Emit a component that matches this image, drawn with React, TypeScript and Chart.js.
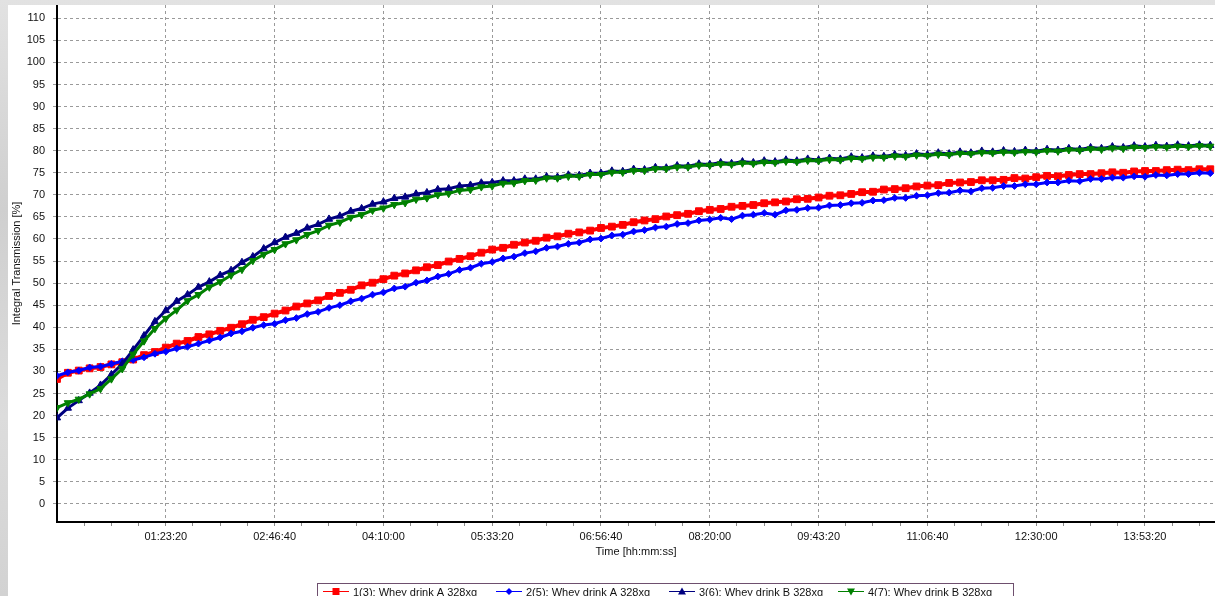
import React, { useEffect, useRef } from 'react';
import { Chart, registerables } from 'chart.js';

Chart.register(...registerables);

// elapsed time in seconds
const timeSeconds = [
  0, 500, 1000, 1500, 2000, 2500, 3000, 3500, 4000, 4500,
  5000, 5500, 6000, 6500, 7000, 7500, 8000, 8500, 9000, 9500,
  10000, 10500, 11000, 11500, 12000, 12500, 13000, 13500, 14000, 14500,
  15000, 15500, 16000, 16500, 17000, 17500, 18000, 18500, 19000, 19500,
  20000, 20500, 21000, 21500, 22000, 22500, 23000, 23500, 24000, 24500,
  25000, 25500, 26000, 26500, 27000, 27500, 28000, 28500, 29000, 29500,
  30000, 30500, 31000, 31500, 32000, 32500, 33000, 33500, 34000, 34500,
  35000, 35500, 36000, 36500, 37000, 37500, 38000, 38500, 39000, 39500,
  40000, 40500, 41000, 41500, 42000, 42500, 43000, 43500, 44000, 44500,
  45000, 45500, 46000, 46500, 47000, 47500, 48000, 48500, 49000, 49500,
  50000, 50500, 51000, 51500, 52000, 52500, 53000,
];

// 1(3): Whey drink A 328xg
const series1 = [
  28.3, 29.7, 30.2, 30.7, 31.0, 31.6, 32.1, 32.7, 33.7, 34.4,
  35.4, 36.3, 36.9, 37.8, 38.4, 39.2, 39.9, 40.7, 41.7, 42.3,
  43.1, 43.8, 44.7, 45.4, 46.1, 47.1, 47.8, 48.5, 49.5, 50.1,
  50.9, 51.7, 52.2, 52.9, 53.6, 54.1, 54.9, 55.5, 56.1, 56.9,
  57.6, 58.0, 58.7, 59.2, 59.6, 60.3, 60.6, 61.2, 61.5, 61.9,
  62.5, 62.8, 63.2, 63.8, 64.2, 64.5, 65.1, 65.4, 65.7, 66.3,
  66.6, 66.8, 67.3, 67.5, 67.7, 68.1, 68.3, 68.5, 69.0, 69.1,
  69.4, 69.8, 69.9, 70.2, 70.6, 70.7, 71.2, 71.3, 71.5, 71.9,
  72.1, 72.2, 72.7, 72.8, 72.9, 73.3, 73.3, 73.4, 73.8, 73.7,
  74.0, 74.3, 74.2, 74.5, 74.7, 74.7, 74.9, 75.1, 75.0, 75.3,
  75.4, 75.4, 75.6, 75.7, 75.6, 75.8, 75.8,
];

// 2(5): Whey drink A 328xg
const series2 = [
  29.0, 29.8, 30.2, 30.9, 31.1, 31.7, 32.3, 32.6, 33.2, 34.0,
  34.5, 35.2, 35.6, 36.3, 37.0, 37.7, 38.6, 39.1, 39.9, 40.5,
  40.8, 41.6, 42.1, 43.0, 43.5, 44.4, 45.0, 45.9, 46.5, 47.4,
  47.9, 48.8, 49.2, 50.1, 50.6, 51.5, 52.1, 53.0, 53.5, 54.4,
  54.8, 55.6, 56.0, 56.8, 57.2, 58.0, 58.3, 58.9, 59.2, 59.9,
  60.1, 60.8, 61.0, 61.7, 62.0, 62.6, 62.8, 63.4, 63.6, 64.2,
  64.4, 64.8, 64.5, 65.3, 65.5, 65.9, 65.5, 66.5, 66.6, 67.0,
  67.1, 67.6, 67.7, 68.1, 68.2, 68.7, 68.8, 69.3, 69.3, 69.8,
  69.9, 70.4, 70.5, 71.0, 70.8, 71.5, 71.6, 72.0, 72.0, 72.4,
  72.4, 72.8, 72.8, 73.2, 73.1, 73.6, 73.6, 73.9, 73.9, 74.2,
  74.1, 74.5, 74.4, 74.7, 74.7, 75.0, 74.9,
];

// 3(6): Whey drink B 328xg
const series3 = [
  19.5, 21.7, 23.4, 25.1, 26.9, 29.3, 31.7, 34.9, 38.1, 41.3,
  43.8, 45.9, 47.4, 49.1, 50.3, 51.8, 52.9, 54.7, 56.0, 57.8,
  59.2, 60.4, 61.3, 62.5, 63.3, 64.5, 65.2, 66.3, 66.9, 67.9,
  68.4, 69.2, 69.5, 70.2, 70.5, 71.2, 71.4, 72.0, 72.2, 72.7,
  72.8, 73.2, 73.2, 73.6, 73.6, 74.1, 74.0, 74.5, 74.4, 74.9,
  74.9, 75.4, 75.3, 75.8, 75.7, 76.2, 76.1, 76.6, 76.5, 77.0,
  76.9, 77.3, 77.1, 77.5, 77.3, 77.7, 77.5, 77.9, 77.7, 78.1,
  77.9, 78.3, 78.1, 78.6, 78.4, 78.8, 78.7, 79.1, 78.9, 79.3,
  79.1, 79.5, 79.3, 79.7, 79.5, 79.9, 79.7, 80.0, 79.8, 80.1,
  79.9, 80.3, 80.1, 80.5, 80.3, 80.7, 80.5, 80.9, 80.7, 81.1,
  80.9, 81.2, 81.0, 81.3, 81.1, 81.3, 81.2,
];

// 4(7): Whey drink B 328xg
const series4 = [
  21.8, 22.9, 23.7, 24.9, 26.1, 28.3, 30.6, 33.9, 36.9, 39.7,
  42.0, 43.9, 46.0, 47.4, 49.1, 50.3, 51.8, 53.1, 55.1, 56.5,
  57.6, 58.9, 59.8, 61.0, 61.9, 63.1, 63.8, 64.9, 65.5, 66.5,
  67.0, 67.8, 68.2, 69.0, 69.3, 70.0, 70.3, 71.0, 71.2, 71.8,
  72.0, 72.6, 72.7, 73.2, 73.3, 73.8, 73.8, 74.2, 74.2, 74.6,
  74.6, 75.1, 75.1, 75.5, 75.5, 75.9, 75.9, 76.3, 76.3, 76.7,
  76.7, 77.0, 76.9, 77.2, 77.1, 77.4, 77.3, 77.6, 77.5, 77.8,
  77.7, 78.0, 77.9, 78.3, 78.2, 78.5, 78.5, 78.8, 78.7, 79.0,
  78.9, 79.2, 79.1, 79.4, 79.3, 79.6, 79.5, 79.7, 79.6, 79.8,
  79.7, 80.0, 79.9, 80.2, 80.1, 80.4, 80.3, 80.6, 80.5, 80.8,
  80.7, 80.9, 80.8, 81.0, 80.9, 81.1, 81.0,
];

const seriesNames = [
  '1(3): Whey drink A 328xg',
  '2(5): Whey drink A 328xg',
  '3(6): Whey drink B 328xg',
  '4(7): Whey drink B 328xg',
];

const yTickValues = [0, 5, 10, 15, 20, 25, 30, 35, 40, 45, 50, 55, 60, 65, 70, 75, 80, 85, 90, 95, 100, 105, 110];

const xMajorTicks = [5000, 10000, 15000, 20000, 25000, 30000, 35000, 40000, 45000, 50000];
const xTickLabels = ['01:23:20', '02:46:40', '04:10:00', '05:33:20', '06:56:40', '08:20:00', '09:43:20', '11:06:40', '12:30:00', '13:53:20'];

const FONT = '"Liberation Sans", Arial, sans-serif';
const GRID = '#9a9a9a';

const colors = ['#ff0000', '#0000ff', '#000080', '#008000'];
const markerKinds = ['square', 'diamond', 'up', 'down'];

function drawMarker(ctx: CanvasRenderingContext2D, kind: string, x: number, y: number, color: string) {
  ctx.fillStyle = color;
  ctx.beginPath();
  if (kind === 'square') {
    ctx.rect(x - 3.5, y - 3.5, 7, 7);
  } else if (kind === 'diamond') {
    ctx.moveTo(x, y - 3.5);
    ctx.lineTo(x + 3.5, y);
    ctx.lineTo(x, y + 3.5);
    ctx.lineTo(x - 3.5, y);
    ctx.closePath();
  } else if (kind === 'up') {
    ctx.moveTo(x, y - 4);
    ctx.lineTo(x + 4, y + 3);
    ctx.lineTo(x - 4, y + 3);
    ctx.closePath();
  } else {
    ctx.moveTo(x, y + 4);
    ctx.lineTo(x + 4, y - 3);
    ctx.lineTo(x - 4, y - 3);
    ctx.closePath();
  }
  ctx.fill();
}

const legendPlugin = {
  id: 'boxLegend',
  afterDraw(chart: any) {
    const ctx: CanvasRenderingContext2D = chart.ctx;
    const textX = [345, 518, 691, 860];
    const lineY = 586.5;
    ctx.save();
    ctx.fillStyle = '#ffffff';
    ctx.fillRect(309.5, 578.5, 696, 30);
    ctx.strokeStyle = '#6e4f6e';
    ctx.lineWidth = 1;
    ctx.strokeRect(309.5, 578.5, 696, 30);
    ctx.font = '11px ' + FONT;
    ctx.textBaseline = 'alphabetic';
    ctx.textAlign = 'left';
    for (let i = 0; i < seriesNames.length; i++) {
      const tx = textX[i];
      const x1 = tx - 30;
      const x2 = tx - 4;
      ctx.strokeStyle = colors[i];
      ctx.lineWidth = 1;
      ctx.beginPath();
      ctx.moveTo(x1, lineY);
      ctx.lineTo(x2, lineY);
      ctx.stroke();
      drawMarker(ctx, markerKinds[i], (x1 + x2) / 2, lineY, colors[i]);
      ctx.fillStyle = '#111';
      ctx.fillText(seriesNames[i], tx, 590.5);
    }
    ctx.restore();
  },
};

function buildXTicks() {
  const ticks: { value: number; major: boolean }[] = [];
  let prev = 0;
  for (const m of xMajorTicks) {
    const step = (m - prev) / 4;
    for (let k = 1; k < 4; k++) ticks.push({ value: prev + step * k, major: false });
    ticks.push({ value: m, major: true });
    prev = m;
  }
  const step = (xMajorTicks[1] - xMajorTicks[0]) / 4;
  for (let k = 1; k < 4; k++) ticks.push({ value: prev + step * k, major: false });
  return ticks;
}

export default function App() {
  const ref = useRef<HTMLCanvasElement>(null);

  useEffect(() => {
    if (!ref.current) return;
    const all = [series1, series2, series3, series4];
    const radii = [4.8, 3.4, 4.2, 4.2];
    const lineWidths = [4, 3, 3, 3];
    const styles = ['rect', 'rectRot', 'triangle', 'triangle'];
    const rotations = [0, 0, 0, 180];
    const orders = [3, 2, 1, 0];
    const datasets = all.map((s, i) => ({
      label: seriesNames[i],
      data: s.map((v, j) => ({ x: timeSeconds[j], y: v })),
      borderColor: colors[i],
      backgroundColor: colors[i],
      borderWidth: lineWidths[i],
      pointStyle: styles[i],
      pointRadius: radii[i],
      pointHoverRadius: radii[i],
      pointRotation: rotations[i],
      pointBorderWidth: 1,
      pointBorderColor: colors[i],
      pointBackgroundColor: colors[i],
      tension: 0,
      order: orders[i],
    }));

    const chart = new Chart(ref.current, {
      type: 'line',
      data: { datasets },
      options: {
        responsive: false,
        animation: false,
        events: [],
        layout: { autoPadding: false, padding: { left: 0, right: 0, top: 0, bottom: 37.4 } },
        plugins: { legend: { display: false }, tooltip: { enabled: false } },
        scales: {
          x: {
            type: 'linear',
            min: 0,
            max: 53217,
            afterBuildTicks: (scale: any) => {
              scale.ticks = buildXTicks();
            },
            afterFit: (scale: any) => {
              scale.height = 36.6;
              scale.paddingLeft = 0;
              scale.paddingRight = 0;
            },
            ticks: {
              autoSkip: false,
              maxRotation: 0,
              minRotation: 0,
              padding: 4,
              color: '#111',
              font: { family: FONT, size: 11 },
              callback: (value: any) => {
                const idx = xMajorTicks.indexOf(Number(value));
                return idx >= 0 ? xTickLabels[idx] : '';
              },
            },
            grid: {
              color: (c: any) => (c.tick && c.tick.major ? GRID : 'rgba(0,0,0,0)'),
              lineWidth: 1,
              tickLength: 4,
              tickColor: '#8a8a8a',
            },
            border: { display: true, color: '#000', width: 2, dash: [3, 3] },
            title: {
              display: true,
              text: 'Time [hh:mm:ss]',
              color: '#111',
              font: { family: FONT, size: 11 },
              padding: { top: 0, bottom: 0 },
            },
          },
          y: {
            type: 'linear',
            min: -4.1,
            max: 113,
            afterBuildTicks: (scale: any) => {
              scale.ticks = yTickValues.map((v) => ({ value: v }));
            },
            afterFit: (scale: any) => {
              scale.width = 49;
              scale.paddingTop = 0;
              scale.paddingBottom = 0;
            },
            ticks: {
              autoSkip: false,
              padding: 8,
              color: '#111',
              font: { family: FONT, size: 11 },
            },
            grid: {
              color: GRID,
              lineWidth: 1,
              tickLength: 4,
              tickColor: GRID,
            },
            border: { display: true, color: '#000', width: 2, dash: [3, 3] },
            title: {
              display: true,
              text: 'Integral Transmission [%]',
              color: '#111',
              font: { family: FONT, size: 11 },
              padding: { top: 2, bottom: 0 },
            },
          },
        },
      },
      plugins: [legendPlugin],
    } as any);

    return () => chart.destroy();
  }, []);

  return (
    <div
      style={{
        position: 'fixed',
        left: 0,
        top: 0,
        width: 1215,
        height: 596,
        overflow: 'hidden',
        background: 'linear-gradient(180deg, #e2e2e2 0%, #cfcfcf 35%, #dcdcdc 70%, #d2d2d2 100%)',
      }}
    >
      <div style={{ position: 'absolute', left: 8, top: 5, width: 1207, height: 591, background: '#ffffff' }}>
        <canvas ref={ref} width={1207} height={591} style={{ display: 'block', width: 1207, height: 591 }} />
      </div>
    </div>
  );
}
